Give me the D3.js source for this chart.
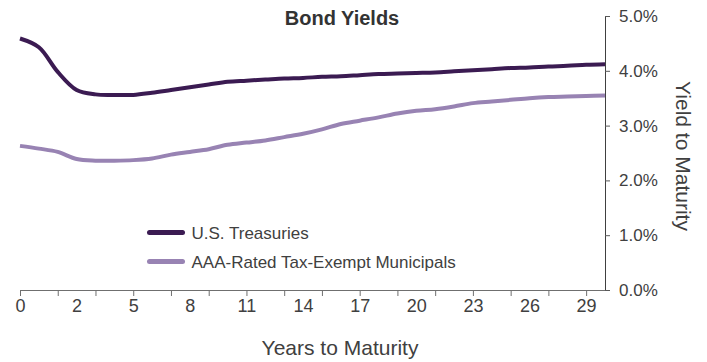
<!DOCTYPE html>
<html>
<head>
<meta charset="utf-8">
<script src="https://cdn.jsdelivr.net/npm/d3@7"></script>
<style>
  body { margin: 0; background: #fff; }
  text { font-family: "Liberation Sans", Arial, sans-serif; }
</style>
</head>
<body>
<div id="chart"></div>
<script>
const width = 707,
    height = 362;

// Years to maturity (category axis)
const maturities = [0.25, 0.5, 1, 2, 3, 4, 5, 6, 7, 8, 9, 10, 11, 12, 13, 14, 15,
    16, 17, 18, 19, 20, 21, 22, 23, 24, 25, 26, 27, 28, 29, 30];

// yields in percent
const treasuries = [4.59, 4.43, 3.98, 3.65, 3.57, 3.56, 3.56, 3.60, 3.65, 3.70, 3.75,
    3.80, 3.82, 3.84, 3.86, 3.87, 3.89, 3.90, 3.92, 3.94, 3.95, 3.96, 3.97, 3.99,
    4.01, 4.03, 4.05, 4.06, 4.08, 4.09, 4.11, 4.12];
const municipals = [2.63, 2.58, 2.52, 2.39, 2.36, 2.36, 2.37, 2.40, 2.47, 2.52, 2.57,
    2.65, 2.69, 2.73, 2.79, 2.85, 2.93, 3.03, 3.09, 3.15, 3.22, 3.27, 3.30, 3.35,
    3.41, 3.44, 3.47, 3.50, 3.52, 3.53, 3.54, 3.55];

const seriesNames = ["U.S. Treasuries", "AAA-Rated Tax-Exempt Municipals"];
const seriesColors = ["#3b1b52", "#9883b3"];

const yTicks = [0, 1, 2, 3, 4, 5];

let margin = { top: 16, right: 102, bottom: 72, left: 20 };
let plotRight = width - margin.right;

const svg = d3.select("#chart")
    .append("svg")
    .attr("width", width)
    .attr("height", height);

// point scale: categories sit on the tick marks
let xScale = d3.scalePoint()
    .domain(d3.range(maturities.length))
    .range([margin.left, plotRight]);

let yScale = d3.scaleLinear()
    .domain([0, 5])
    .range([height - margin.bottom, margin.top]);

// x axis: tick marks every 2 categories, labels every 3
let xTickAxis = d3.axisBottom(xScale)
    .tickValues(d3.range(0, maturities.length - 1, 2))
    .tickSize(6)
    .tickFormat("");

let gx = svg.append("g")
    .attr("transform", `translate(0,${yScale(0)})`)
    .call(xTickAxis);
gx.select(".domain").attr("d", `M${margin.left},0.5H${plotRight}`);
gx.selectAll("line, path").attr("stroke", "#6f6f6f");

let xLabelAxis = d3.axisBottom(xScale)
    .tickValues(d3.range(0, maturities.length, 3))
    .tickSize(0)
    .tickPadding(9)
    .tickFormat(i => d3.format(".0f")(maturities[i]));

svg.append("g")
    .attr("transform", `translate(0,${yScale(0)})`)
    .call(xLabelAxis)
    .call(g => g.select(".domain").remove())
    .selectAll("text")
    .attr("font-size", 18)
    .attr("fill", "#404040")
    .style("font-family", "Liberation Sans, Arial, sans-serif");

// right y axis
let yAxis = d3.axisRight(yScale)
    .tickValues(yTicks)
    .tickSize(5)
    .tickPadding(9)
    .tickFormat(d => d3.format(".1f")(d) + "%");

let gy = svg.append("g")
    .attr("transform", `translate(${plotRight},0)`)
    .call(yAxis);
gy.select(".domain").attr("d", `M0.5,${yScale(5)}V${yScale(0)}`).attr("stroke", "#404040");
gy.selectAll("line").attr("stroke", "#595959");
gy.selectAll("text")
    .attr("font-size", 17)
    .attr("fill", "#404040")
    .style("font-family", "Liberation Sans, Arial, sans-serif");

// lines
let line = d3.line()
    .x((d, i) => xScale(i))
    .y(d => yScale(d))
    .curve(d3.curveCatmullRom);

[municipals, treasuries].forEach((s, k) => {
    svg.append("path")
        .datum(s)
        .attr("fill", "none")
        .attr("stroke", seriesColors[1 - k])
        .attr("stroke-width", 4)
        .attr("stroke-linejoin", "round")
        .attr("d", line);
});

// title
svg.append("text")
    .attr("x", 342)
    .attr("y", 25)
    .attr("text-anchor", "middle")
    .attr("font-size", 20)
    .attr("font-weight", "bold")
    .attr("fill", "#333")
    .text("Bond Yields");

// axis titles
svg.append("text")
    .attr("x", 340)
    .attr("y", 355)
    .attr("text-anchor", "middle")
    .attr("font-size", 21)
    .attr("fill", "#404040")
    .text("Years to Maturity");

svg.append("text")
    .attr("transform", `translate(676,156) rotate(90)`)
    .attr("text-anchor", "middle")
    .attr("font-size", 21)
    .attr("fill", "#404040")
    .text("Yield to Maturity");

// legend
let legend = svg.append("g")
    .attr("transform", "translate(149.5,232.5)");

seriesNames.forEach((name, i) => {
    legend.append("line")
        .attr("x1", 0)
        .attr("x2", 33)
        .attr("y1", i * 29)
        .attr("y2", i * 29)
        .attr("stroke", seriesColors[i])
        .attr("stroke-width", 5)
        .attr("stroke-linecap", "round");
    legend.append("text")
        .attr("x", 42)
        .attr("y", i * 29 + 6)
        .attr("font-size", 17)
        .attr("fill", "#404040")
        .text(name);
});
</script>
</body>
</html>
